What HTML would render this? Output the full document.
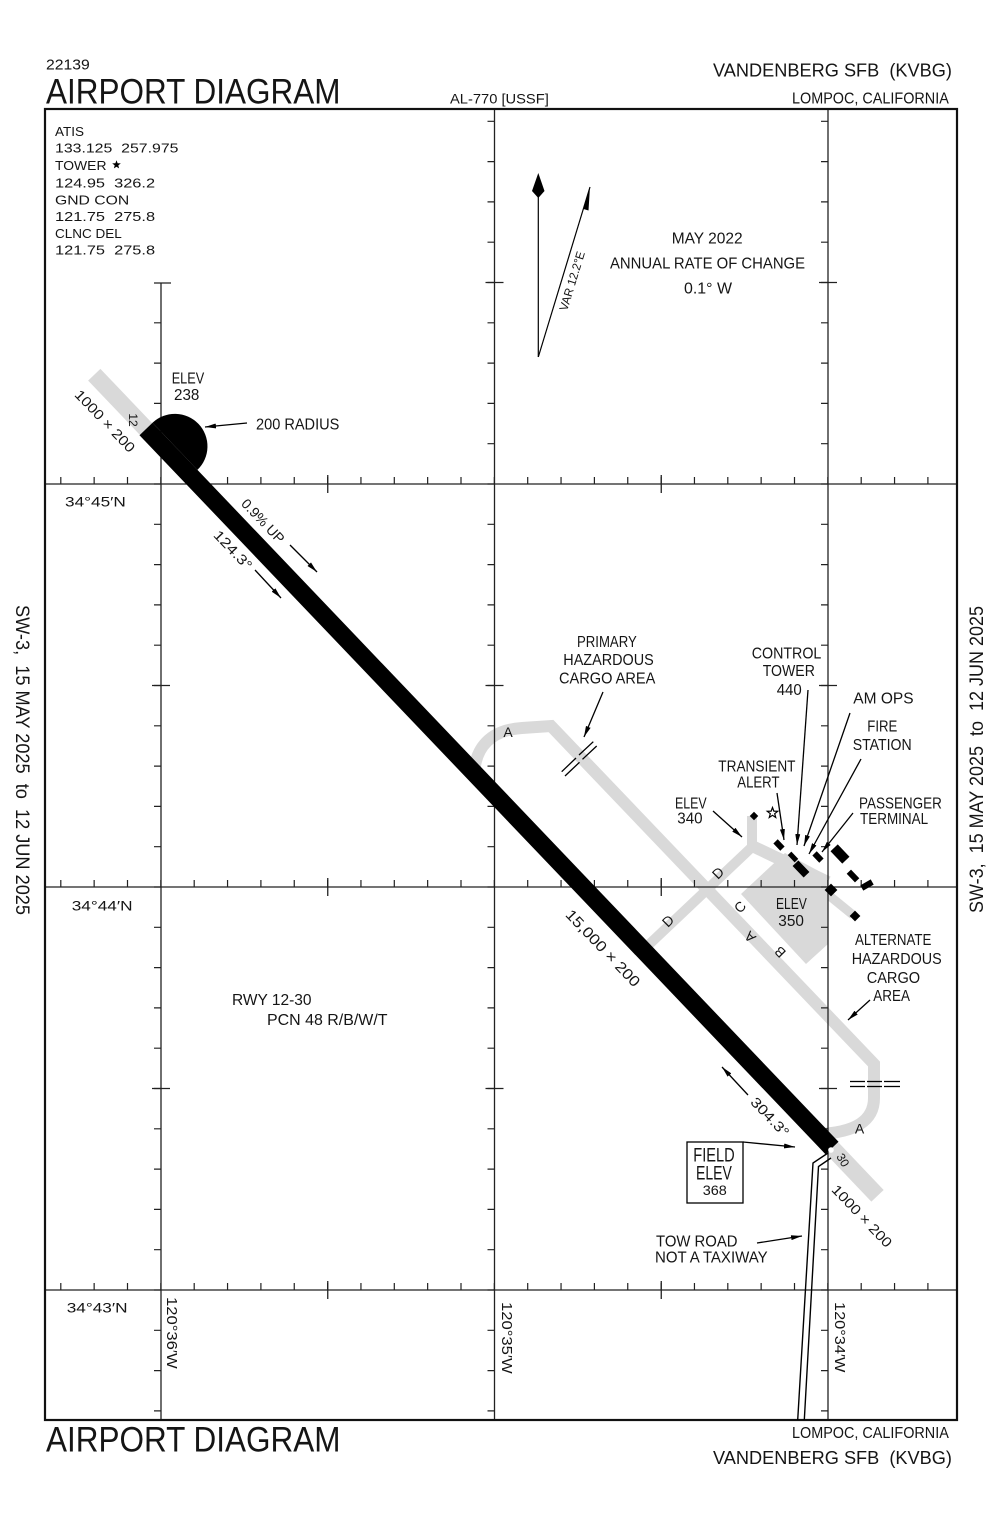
<!DOCTYPE html>
<html><head><meta charset="utf-8">
<style>
html,body{margin:0;padding:0;background:#fff;}
svg{display:block;}
text{font-family:"Liberation Sans",sans-serif;fill:#151515;white-space:pre;}
</style></head><body>
<svg width="1000" height="1532" viewBox="0 0 1000 1532" xmlns="http://www.w3.org/2000/svg">
<defs>
<marker id="ah" viewBox="0 0 11 5" refX="11" refY="2.5" markerWidth="11" markerHeight="5" orient="auto" markerUnits="userSpaceOnUse"><path d="M0,0 L11,2.5 L0,5 z" fill="#000"/></marker>
</defs>
<rect width="1000" height="1532" fill="#fff"/>

<!-- Header -->
<text transform="translate(46,69.3) scale(1.05,1)" font-size="15">22139</text>
<text transform="translate(46,103.3) scale(0.9,1)" font-size="35">AIRPORT DIAGRAM</text>
<text transform="translate(450,103.3) scale(1.05,1)" font-size="14">AL-770 [USSF]</text>
<text x="713" y="76.7" font-size="18.5" textLength="239" lengthAdjust="spacingAndGlyphs">VANDENBERG SFB  (KVBG)</text>
<text transform="translate(792,103.3) scale(0.9,1)" font-size="16">LOMPOC, CALIFORNIA</text>

<!-- Footer -->
<text transform="translate(46,1451.7) scale(0.9,1)" font-size="35">AIRPORT DIAGRAM</text>
<text transform="translate(792,1438) scale(0.9,1)" font-size="16">LOMPOC, CALIFORNIA</text>
<text x="713" y="1464" font-size="18.5" textLength="239" lengthAdjust="spacingAndGlyphs">VANDENBERG SFB  (KVBG)</text>

<!-- Side texts -->
<text transform="translate(16,605) rotate(90)" font-size="19" textLength="310" lengthAdjust="spacingAndGlyphs">SW-3,  15 MAY 2025  to  12 JUN 2025</text>
<text transform="translate(983,913) rotate(-90)" font-size="19" textLength="307" lengthAdjust="spacingAndGlyphs">SW-3,  15 MAY 2025  to  12 JUN 2025</text>

<!-- Gray taxiways / apron -->
<g fill="none" stroke="#d9d9d9" stroke-linejoin="miter">
  <line x1="146" y1="429" x2="94.25" y2="374.7" stroke-width="17"/>
  <line x1="832" y1="1148" x2="877.5" y2="1195.8" stroke-width="17"/>
  <path d="M474,775 C475,748 490,730 522,728 L551,726 L874,1064 L874,1098 Q874,1132 818,1134" stroke-width="12"/>
  <path d="M640,953 L752,847 L752,816" stroke-width="10"/>
  <line x1="750" y1="845" x2="828" y2="882" stroke-width="12"/>
  <line x1="826" y1="893" x2="853" y2="915" stroke-width="9"/>
</g>
<polygon points="741,894 785,853 828,876 828,944 806,964" fill="#d9d9d9"/>

<!-- Grid lines -->
<g stroke="#222" stroke-width="1.3">
  <line x1="45" y1="484" x2="957" y2="484"/>
  <line x1="45" y1="887" x2="957" y2="887"/>
  <line x1="45" y1="1290" x2="957" y2="1290"/>
  <line x1="161" y1="283" x2="161" y2="1420"/>
  <line x1="494.5" y1="109" x2="494.5" y2="1420"/>
  <line x1="828" y1="109" x2="828" y2="1420"/>
</g>
<g stroke="#222" stroke-width="7" fill="none">
  <line x1="60.2" y1="480.5" x2="957" y2="480.5" stroke-dasharray="1.2 32.15"/>
  <line x1="60.2" y1="883.5" x2="957" y2="883.5" stroke-dasharray="1.2 32.15"/>
  <line x1="60.2" y1="1286.5" x2="957" y2="1286.5" stroke-dasharray="1.2 32.15"/>
  <line x1="157.5" y1="322.2" x2="157.5" y2="1420" stroke-dasharray="1.2 39.1"/>
  <line x1="491" y1="120.7" x2="491" y2="1420" stroke-dasharray="1.2 39.1"/>
  <line x1="824.5" y1="120.7" x2="824.5" y2="1420" stroke-dasharray="1.2 39.1"/>
</g>
<g stroke="#222" stroke-width="1.3">
  <line x1="327.75" y1="475" x2="327.75" y2="493"/>
  <line x1="661.25" y1="475" x2="661.25" y2="493"/>
  <line x1="327.75" y1="878" x2="327.75" y2="896"/>
  <line x1="661.25" y1="878" x2="661.25" y2="896"/>
  <line x1="327.75" y1="1281" x2="327.75" y2="1299"/>
  <line x1="661.25" y1="1281" x2="661.25" y2="1299"/>
  <line x1="154" y1="283" x2="171" y2="283"/>
  <line x1="152" y1="685.5" x2="170" y2="685.5"/>
  <line x1="152" y1="1088.5" x2="170" y2="1088.5"/>
  <line x1="485.5" y1="282.5" x2="503.5" y2="282.5"/>
  <line x1="485.5" y1="685.5" x2="503.5" y2="685.5"/>
  <line x1="485.5" y1="1088.5" x2="503.5" y2="1088.5"/>
  <line x1="819" y1="282.5" x2="837" y2="282.5"/>
  <line x1="819" y1="685.5" x2="837" y2="685.5"/>
  <line x1="819" y1="1088.5" x2="837" y2="1088.5"/>
</g>

<!-- Frame -->
<rect x="45" y="109" width="912" height="1311" fill="none" stroke="#111" stroke-width="2.2"/>

<!-- Runway -->
<line x1="146" y1="429" x2="832" y2="1148" stroke="#000" stroke-width="18"/>
<path d="M152.5,422.8 A32.5,32.5 0 0 1 197.4,469.9 Z" fill="#000"/>
<circle cx="831" cy="1150" r="2.8" fill="#fff"/>

<!-- Hazardous cargo symbols -->
<g stroke="#000" stroke-width="1.3">
  <line x1="561.7" y1="771.7" x2="576" y2="758"/>
  <line x1="579" y1="755" x2="593.3" y2="741.7"/>
  <line x1="565" y1="776" x2="579.5" y2="762.3"/>
  <line x1="582.5" y1="759.3" x2="596.7" y2="746"/>
  <line x1="850" y1="1081.5" x2="865" y2="1081.5"/>
  <line x1="867" y1="1081.5" x2="882" y2="1081.5"/>
  <line x1="884" y1="1081.5" x2="900" y2="1081.5"/>
  <line x1="850" y1="1086.5" x2="865" y2="1086.5"/>
  <line x1="867" y1="1086.5" x2="882" y2="1086.5"/>
  <line x1="884" y1="1086.5" x2="900" y2="1086.5"/>
</g>

<!-- Tow road -->
<g fill="none" stroke="#000" stroke-width="1.4">
  <polyline points="828,1153 813,1163 797.7,1420"/>
  <polyline points="831,1158 818.5,1166.5 804.3,1420"/>
</g>

<!-- Buildings -->
<g fill="#000">
  <rect x="-3" y="-3" width="6" height="6" transform="translate(754,816) rotate(45)"/>
  <rect x="-5" y="-3" width="10" height="6" transform="translate(779,845) rotate(46.35)"/>
  <rect x="-5" y="-2.5" width="10" height="5" transform="translate(793,857) rotate(46.35)"/>
  <rect x="-8" y="-4" width="16" height="8" transform="translate(801,869) rotate(46.35)"/>
  <rect x="-5" y="-3" width="10" height="6" transform="translate(818,857) rotate(46.35)"/>
  <rect x="-8.5" y="-5" width="17" height="10" transform="translate(840,854) rotate(46.35)"/>
  <rect x="-6" y="-3" width="12" height="6" transform="translate(853,876) rotate(46.35)"/>
  <rect x="-6" y="-3" width="12" height="6" transform="translate(867,885) rotate(-30)"/>
  <rect x="-4.5" y="-4.5" width="9" height="9" transform="translate(831,890) rotate(45)"/>
  <rect x="-3.8" y="-3.8" width="7.6" height="7.6" transform="translate(855,916) rotate(45)"/>
</g>
<polygon transform="translate(772.5,813)" points="0,-5.5 1.35,-1.86 5.23,-1.7 2.19,0.71 3.23,4.45 0,2.3 -3.23,4.45 -2.19,0.71 -5.23,-1.7 -1.35,-1.86" fill="#fff" stroke="#000" stroke-width="1.2"/>

<!-- Leader arrows -->
<g stroke="#000" stroke-width="1.3" fill="none" marker-end="url(#ah)">
  <line x1="247" y1="423" x2="205" y2="427"/>
  <line x1="603" y1="692" x2="584" y2="737"/>
  <line x1="713" y1="811" x2="742" y2="837"/>
  <line x1="777" y1="793" x2="784" y2="840"/>
  <line x1="808" y1="690" x2="797" y2="845"/>
  <line x1="850" y1="713" x2="804" y2="846"/>
  <line x1="861" y1="759" x2="809" y2="854"/>
  <line x1="853" y1="813" x2="822" y2="852"/>
  <line x1="870" y1="1000" x2="848" y2="1020"/>
  <line x1="743" y1="1142" x2="795" y2="1147"/>
  <line x1="757" y1="1243" x2="802" y2="1236"/>
  <line x1="290" y1="545" x2="317" y2="572"/>
  <line x1="255" y1="570" x2="281" y2="598"/>
  <line x1="748" y1="1095" x2="722" y2="1067"/>
</g>

<!-- Compass -->
<line x1="538.3" y1="196" x2="538.3" y2="357" stroke="#000" stroke-width="1.2"/>
<polygon points="538.3,173 544.5,191 538.3,198 532,191" fill="#000"/>
<line x1="538.3" y1="357" x2="590" y2="187" stroke="#000" stroke-width="1.2"/>
<polygon points="590,186.7 583.5,209 588.5,210.5" fill="#000"/>
<text transform="translate(572,281) rotate(-73) scale(0.97,1)" font-size="12" text-anchor="middle" dy="0.35em">VAR 12.2°E</text>
<g font-size="15.5">
<text transform="translate(671.7,243.3) scale(1.0,1)">MAY 2022</text>
<text transform="translate(610,268.3) scale(0.96,1)">ANNUAL RATE OF CHANGE</text>
<text transform="translate(684,293.3) scale(1.03,1)">0.1° W</text>
</g>

<!-- Frequencies -->
<g font-size="13">
<text transform="translate(55,136) scale(1.04,1)">ATIS</text>
<text transform="translate(55,152.5) scale(1.22,1)">133.125  257.975</text>
<text transform="translate(55,170) scale(1.07,1)">TOWER</text>
<text transform="translate(55,187.5) scale(1.26,1)">124.95  326.2</text>
<text transform="translate(55,204.5) scale(1.21,1)">GND CON</text>
<text transform="translate(55,221) scale(1.26,1)">121.75  275.8</text>
<text transform="translate(55,238) scale(1.04,1)">CLNC DEL</text>
<text transform="translate(55,254.5) scale(1.26,1)">121.75  275.8</text>
</g>
<polygon transform="translate(116.5,164.8)" points="0,-4.5 1.1,-1.5 4.3,-1.4 1.8,0.6 2.6,3.6 0,1.9 -2.6,3.6 -1.8,0.6 -4.3,-1.4 -1.1,-1.5" fill="#000"/>

<!-- Lat / Lon labels -->
<g font-size="14">
<text transform="translate(65,506.7) scale(1.23,1)">34°45′N</text>
<text transform="translate(71.7,910.7) scale(1.23,1)">34°44′N</text>
<text transform="translate(66.7,1312.7) scale(1.23,1)">34°43′N</text>
</g>
<g font-size="15">
<text transform="translate(167,1297) rotate(90) scale(1.11,1)">120°36′W</text>
<text transform="translate(502,1302) rotate(90) scale(1.11,1)">120°35′W</text>
<text transform="translate(835,1302) rotate(90) scale(1.09,1)">120°34′W</text>
</g>

<!-- Runway labels -->
<g font-size="14" text-anchor="middle">
<text transform="translate(133,420) rotate(90)" dy="0.35em" font-size="12">12</text>
<text transform="translate(843,1160) rotate(60)" dy="0.35em" font-size="12">30</text>
<text transform="translate(105,421) rotate(46.35) scale(1.14,1)" dy="0.35em">1000 × 200</text>
<text transform="translate(862,1216) rotate(46.35) scale(1.14,1)" dy="0.35em">1000 × 200</text>
<text transform="translate(263,521) rotate(46.35)" dy="0.35em">0.9% UP</text>
<text transform="translate(233,550) rotate(46.35) scale(1.2,1)" dy="0.35em">124.3°</text>
<text transform="translate(603,948) rotate(46.35) scale(1.14,1)" dy="0.35em" font-size="15">15,000 × 200</text>
<text transform="translate(770,1117) rotate(46.35) scale(1.2,1)" dy="0.35em">304.3°</text>
</g>

<!-- Taxiway letters -->
<g font-size="14" text-anchor="middle">
<text x="508" y="737">A</text>
<text x="859.5" y="1133.5">A</text>
<text transform="translate(668,921) rotate(-45)" dy="0.35em">D</text>
<text transform="translate(718,873) rotate(-45)" dy="0.35em">D</text>
<text transform="translate(740,907) rotate(-45)" dy="0.35em">C</text>
<text transform="translate(750,937) rotate(-135)" dy="0.35em">A</text>
<text transform="translate(780,952) rotate(-135)" dy="0.35em">B</text>
</g>

<!-- Feature labels -->
<g font-size="15.5">
<text transform="translate(171.7,383.7) scale(0.82,1)">ELEV</text>
<text transform="translate(174,400) scale(0.98,1)">238</text>
<text transform="translate(256,429.3) scale(0.94,1)">200 RADIUS</text>

<text transform="translate(577,647) scale(0.85,1)">PRIMARY</text>
<text transform="translate(563.3,665) scale(0.93,1)">HAZARDOUS</text>
<text transform="translate(559,683.3) scale(0.94,1)">CARGO AREA</text>

<text transform="translate(751.7,658.3) scale(0.92,1)">CONTROL</text>
<text transform="translate(762.7,676) scale(0.91,1)">TOWER</text>
<text transform="translate(776.7,695) scale(0.97,1)">440</text>

<text transform="translate(853.3,703.3) scale(1.0,1)">AM OPS</text>
<text transform="translate(867.3,731.7) scale(0.85,1)">FIRE</text>
<text transform="translate(852.7,750) scale(0.91,1)">STATION</text>

<text transform="translate(718.3,771.7) scale(0.88,1)">TRANSIENT</text>
<text transform="translate(737.3,787.3) scale(0.85,1)">ALERT</text>

<text transform="translate(859,808.3) scale(0.87,1)">PASSENGER</text>
<text transform="translate(860,824) scale(0.87,1)">TERMINAL</text>

<text transform="translate(675,808.3) scale(0.8,1)">ELEV</text>
<text transform="translate(677.3,823.3) scale(0.98,1)">340</text>

<text transform="translate(776,909) scale(0.78,1)">ELEV</text>
<text transform="translate(778.3,926) scale(0.99,1)">350</text>

<text transform="translate(855,945) scale(0.86,1)">ALTERNATE</text>
<text transform="translate(851.7,964) scale(0.925,1)">HAZARDOUS</text>
<text transform="translate(866.7,983) scale(0.94,1)">CARGO</text>
<text transform="translate(873.3,1001) scale(0.87,1)">AREA</text>

<text transform="translate(232,1005) scale(1.0,1)">RWY 12-30</text>
<text transform="translate(267,1025) scale(1.03,1)">PCN 48 R/B/W/T</text>

<text transform="translate(656,1246.7) scale(0.96,1)">TOW ROAD</text>
<text transform="translate(655,1262.7) scale(0.97,1)">NOT A TAXIWAY</text>
</g>

<!-- Field elev box -->
<rect x="687" y="1142" width="56" height="61" fill="#fff" stroke="#000" stroke-width="1.3"/>
<text transform="translate(693.3,1161.7) scale(0.75,1)" font-size="19.5">FIELD</text>
<text transform="translate(696,1179.3) scale(0.72,1)" font-size="19.5">ELEV</text>
<text transform="translate(702.7,1195) scale(1.03,1)" font-size="14">368</text>

</svg>
</body></html>
